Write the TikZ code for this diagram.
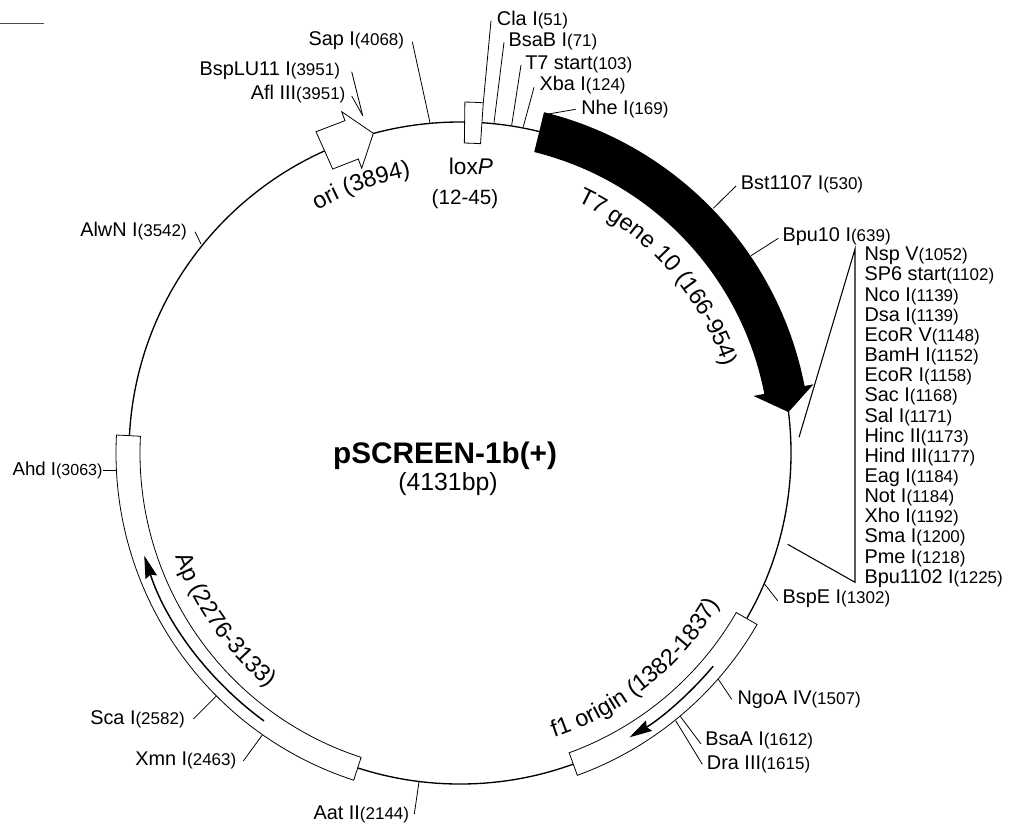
\documentclass[tikz,border=0pt]{standalone}
\usepackage{fontspec}
\setmainfont{Liberation Sans}
\usetikzlibrary{arrows.meta,decorations.text}
\newcommand{\sitenum}[2][12.75]{{\fontsize{#1}{14}\selectfont(#2)}}
\newcommand{\arcfont}{\fontsize{17.6}{20}\selectfont}

\begin{document}
\begin{tikzpicture}[x=0.75pt,y=0.75pt,
  site/.style={font=\fontsize{14.9}{17}\selectfont,anchor=base west,inner sep=0},
  ring/.style={line width=1pt},
  tick/.style={line width=0.6pt},
  box/.style={draw,fill=white,line width=0.6pt},
  strand/.style={line width=1.1pt,-{Stealth[length=17pt,width=9pt,inset=2pt]}}]
  \useasboundingbox (0,0) rectangle (1012,-825);
  \coordinate (C) at (460,-453);
  \coordinate (stubL) at (0,-23.5);
  \coordinate (stubR) at (44,-23.5);
  \draw[line width=0.6pt,black!70] (stubL) -- (stubR);

  % plasmid
  \draw[ring] (C) circle[radius=331];

  % sites, clockwise from the top
  \node[site] (ClaI) at (496.7,-25) {Cla I\sitenum{51}};
  \coordinate (ClaIout) at (491,-20.7);
  \coordinate (ClaIin) at (483.3,-102.7);
  \draw[tick] (ClaIout) -- (ClaIin);
  \node[site] (BsaBI) at (508.3,-46) {BsaB I\sitenum{71}};
  \coordinate (BsaBIout) at (504,-42.3);
  \coordinate (BsaBIin) at (494,-122.7);
  \draw[tick] (BsaBIout) -- (BsaBIin);
  \node[site] (T7start) at (525,-69) {T7 start\sitenum{103}};
  \coordinate (T7startout) at (521,-65);
  \coordinate (T7startin) at (511.7,-125);
  \draw[tick] (T7startout) -- (T7startin);
  \node[site] (XbaI) at (539.3,-90) {Xba I\sitenum{124}};
  \coordinate (XbaIout) at (534,-87.3);
  \coordinate (XbaIin) at (523.3,-126.7);
  \draw[tick] (XbaIout) -- (XbaIin);
  \node[site] (NheI) at (581,-114.3) {Nhe I\sitenum{169}};
  \coordinate (NheIout) at (575.7,-109.3);
  \coordinate (NheIin) at (548.3,-114);
  \draw[tick] (NheIout) -- (NheIin);
  \node[site] (BstI) at (740.7,-189.3) {Bst1107 I\sitenum{530}};
  \coordinate (BstIout) at (736,-186);
  \coordinate (BstIin) at (713.3,-208.3);
  \draw[tick] (BstIout) -- (BstIin);
  \node[site] (BpuI) at (782.3,-241.7) {Bpu10 I\sitenum{639}};
  \coordinate (BpuIout) at (778.3,-238.3);
  \coordinate (BpuIin) at (751,-255.7);
  \draw[tick] (BpuIout) -- (BpuIin);

  % multiple cloning site
  \node[site] (NspV) at (864.3,-260.7) {Nsp V\sitenum{1052}};
  \node[site] (SP6) at (864.3,-280.9) {SP6 start\sitenum{1102}};
  \node[site] (NcoI) at (864.3,-301) {Nco I\sitenum{1139}};
  \node[site] (DsaI) at (864.3,-321.2) {Dsa I\sitenum{1139}};
  \node[site] (EcoRV) at (864.3,-341.3) {EcoR V\sitenum{1148}};
  \node[site] (BamHI) at (864.3,-361.5) {BamH I\sitenum{1152}};
  \node[site] (EcoRI) at (864.3,-381.7) {EcoR I\sitenum{1158}};
  \node[site] (SacI) at (864.3,-401.8) {Sac I\sitenum{1168}};
  \node[site] (SalI) at (864.3,-422) {Sal I\sitenum{1171}};
  \node[site] (HincII) at (864.3,-442.1) {Hinc II\sitenum{1173}};
  \node[site] (HindIII) at (864.3,-462.3) {Hind III\sitenum{1177}};
  \node[site] (EagI) at (864.3,-482.5) {Eag I\sitenum{1184}};
  \node[site] (NotI) at (864.3,-502.6) {Not I\sitenum{1184}};
  \node[site] (XhoI) at (864.3,-522.8) {Xho I\sitenum{1192}};
  \node[site] (SmaI) at (864.3,-542.9) {Sma I\sitenum{1200}};
  \node[site] (PmeI) at (864.3,-563.1) {Pme I\sitenum{1218}};
  \node[site] (BpuXI) at (864.3,-583.3) {Bpu1102 I\sitenum{1225}};
  \coordinate (mcsA) at (799,-437.3);
  \coordinate (mcsB) at (855,-249);
  \coordinate (mcsC) at (855,-582.3);
  \coordinate (mcsD) at (787.7,-544.3);
  \draw[tick,line width=0.8pt] (mcsA) -- (mcsB) -- (mcsC) -- (mcsD);

  \node[site] (BspEI) at (782.3,-603.3) {BspE I\sitenum{1302}};
  \coordinate (BspEIout) at (777.7,-600.7);
  \coordinate (BspEIin) at (764,-583.3);
  \draw[tick] (BspEIout) -- (BspEIin);
  \node[site] (NgoAIV) at (737.3,-704) {NgoA IV\sitenum{1507}};
  \coordinate (NgoAIVout) at (731.7,-699.3);
  \coordinate (NgoAIVin) at (717.7,-678.3);
  \draw[tick] (NgoAIVout) -- (NgoAIVin);
  \node[site] (BsaAI) at (705,-745.7) {BsaA I\sitenum{1612}};
  \coordinate (BsaAIout) at (701,-744);
  \coordinate (BsaAIin) at (680,-716);
  \draw[tick] (BsaAIout) -- (BsaAIin);
  \node[site] (DraIII) at (706.7,-769) {Dra III\sitenum{1615}};
  \coordinate (DraIIIout) at (702.3,-764.3);
  \coordinate (DraIIIin) at (675.7,-720.7);
  \draw[tick] (DraIIIout) -- (DraIIIin);
  \node[site] (AatII) at (313.3,-819) {Aat II\sitenum{2144}};
  \coordinate (AatIIout) at (414.3,-814);
  \coordinate (AatIIin) at (419,-781.7);
  \draw[tick] (AatIIout) -- (AatIIin);
  \node[site] (XmnI) at (135,-765.7) {Xmn I\sitenum{2463}};
  \coordinate (XmnIout) at (243.3,-761);
  \coordinate (XmnIin) at (262.3,-735);
  \draw[tick] (XmnIout) -- (XmnIin);
  \node[site] (ScaI) at (90,-724) {Sca I\sitenum{2582}};
  \coordinate (ScaIout) at (193.3,-719);
  \coordinate (ScaIin) at (216.7,-695.7);
  \draw[tick] (ScaIout) -- (ScaIin);
  \node[site,font=\fontsize{14}{17}\selectfont] (AhdI) at (12.3,-475) {Ahd I\sitenum[12]{3063}};
  \coordinate (AhdIout) at (102.5,-470.7);
  \coordinate (AhdIin) at (116,-470.7);
  \draw[tick] (AhdIout) -- (AhdIin);
  \node[site] (AlwNI) at (80,-236.7) {AlwN I\sitenum{3542}};
  \coordinate (AlwNIout) at (195,-231.7);
  \coordinate (AlwNIin) at (201,-244);
  \draw[tick] (AlwNIout) -- (AlwNIin);
  \node[site] (BspLU) at (199.3,-75) {BspLU11 I\sitenum{3951}};
  \coordinate (BspLUout) at (351.7,-71.7);
  \node[site] (AflIII) at (250.7,-99) {Afl III\sitenum{3951}};
  \coordinate (AflIIIout) at (351.7,-96);
  \coordinate (oriSite) at (362.7,-115.7);
  \draw[tick] (BspLUout) -- (oriSite);
  \draw[tick] (AflIIIout) -- (oriSite);
  \node[site] (SapI) at (308.3,-45) {Sap I\sitenum{4068}};
  \coordinate (SapIout) at (412.3,-41.7);
  \coordinate (SapIin) at (430,-122.7);
  \draw[tick] (SapIout) -- (SapIin);

  % features
  \draw[box,shift={(C)}] (89.2:310) arc[start angle=89.2,end angle=86.2,radius=310] -- (86.2:351) arc[start angle=86.2,end angle=89.2,radius=351] -- cycle;
  \draw[box] (316,-131.7) -- (345,-120.7) -- (341.7,-111.7) -- (373.3,-133.3) -- (361.7,-168.3) -- (358.3,-159) -- (332.7,-169) -- cycle;
  \fill[shift={(C)}] (76.15:351) arc[start angle=76.15,end angle=11,radius=351] -- (11:360) -- (7.1:331) -- (11:299) -- (11:310) arc[start angle=11,end angle=76.15,radius=310] -- cycle;
  \draw[box,shift={(C)}] (-30:319) arc[start angle=-30,end angle=-70,radius=319] -- (-70:343) arc[start angle=-70,end angle=-30,radius=343] -- cycle;
  \draw[box,shift={(C)}] (177:320) arc[start angle=177,end angle=252,radius=320] -- (252:344) arc[start angle=252,end angle=177,radius=344] -- cycle;
  \draw[strand,shift={(C)}] (-40.1:331) arc[start angle=-40.1,end angle=-59.2,radius=331];
  \draw[strand,shift={(C)}] (233.8:332) arc[start angle=233.8,end angle=198,radius=332];

  % feature names
  \path[shift={(C)},decorate,decoration={text along path,text={|\arcfont|ori (3894)}}] (120.5:281) arc[start angle=120.5,end angle=90,radius=281];
  \path[shift={(C)},decorate,decoration={text along path,text={|\arcfont|T7 gene 10 (166-954)}}] (65:277) arc[start angle=65,end angle=8,radius=277];
  \path[shift={(C)},decorate,decoration={text along path,text={|\arcfont|f1 origin (1382-1837)}}] (-71.7:300) arc[start angle=-71.7,end angle=-22,radius=300];
  \path[shift={(C)},decorate,decoration={text along path,text={|\arcfont|Ap (2276-3133)}}] (200:303) arc[start angle=200,end angle=240,radius=303];
  \node[inner sep=0,anchor=base,font=\fontsize{17}{20}\selectfont] (loxP) at (471,-174) {lox\textit{P}};
  \node[inner sep=0,anchor=base,font=\fontsize{15.5}{18}\selectfont] (loxPos) at (465,-204) {(12-45)};

  % name of the plasmid
  \node[inner sep=0,anchor=base,font=\fontsize{22.3}{26}\selectfont\bfseries] (name) at (445,-463.3) {pSCREEN-1b(+)};
  \node[inner sep=0,anchor=base,font=\fontsize{18.6}{22}\selectfont] (size) at (448,-490) {(4131bp)};
\end{tikzpicture}
\end{document}
